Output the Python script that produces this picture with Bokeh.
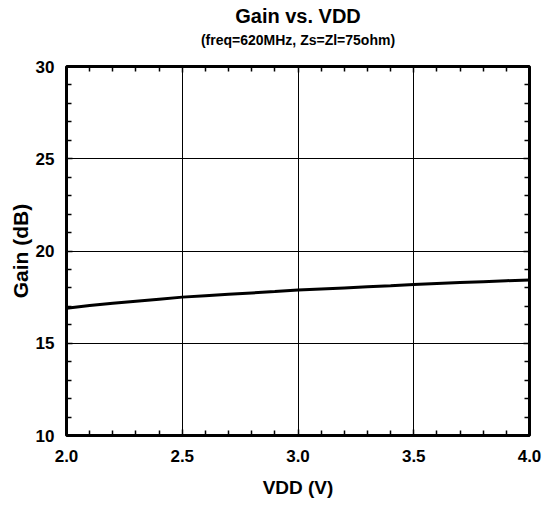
from bokeh.plotting import figure
from bokeh.models import Range1d, FixedTicker, LinearAxis, Title, ColumnDataSource, PrintfTickFormatter
from bokeh.embed import file_html
from bokeh.resources import INLINE

# ---- data ----
vdd = [2.0, 2.1, 2.2, 2.3, 2.4, 2.5, 2.6, 2.7, 2.8, 2.9, 3.0,
       3.1, 3.2, 3.3, 3.4, 3.5, 3.6, 3.7, 3.8, 3.9, 4.0]
gain = [16.90, 17.05, 17.17, 17.28, 17.39, 17.50, 17.58, 17.66, 17.73, 17.80, 17.88,
        17.94, 18.00, 18.06, 18.12, 18.19, 18.24, 18.29, 18.34, 18.39, 18.43]

x_ticks = [2.0, 2.5, 3.0, 3.5, 4.0]
x_minor = [2.1, 2.2, 2.3, 2.4, 2.6, 2.7, 2.8, 2.9, 3.1, 3.2, 3.3, 3.4, 3.6, 3.7, 3.8, 3.9]
y_ticks = [10, 15, 20, 25, 30]
y_minor = [11, 12, 13, 14, 16, 17, 18, 19, 21, 22, 23, 24, 26, 27, 28, 29]

title_text = "Gain vs. VDD"
subtitle_text = "(freq=620MHz, Zs=Zl=75ohm)"
x_label = "VDD (V)"
y_label = "Gain (dB)"

FONT = "Liberation Sans"

p = figure(width=543, height=507, output_backend="svg", toolbar_location=None,
           x_range=Range1d(2.0, 4.0), y_range=Range1d(10, 30),
           x_axis_location=None, y_axis_location=None,
           min_border_left=66, min_border_right=14, min_border_top=64, min_border_bottom=72)
p.background_fill_color = "white"
p.border_fill_color = "white"
p.outline_line_color = "black"
p.outline_line_width = 3

def style_axis(ax, ticks, minor, show_labels, standoff):
    ax.ticker = FixedTicker(ticks=ticks, minor_ticks=minor)
    ax.axis_line_color = None
    ax.major_tick_in = 6
    ax.major_tick_out = 0
    ax.minor_tick_in = 5
    ax.minor_tick_out = 0
    ax.major_tick_line_width = 1.5
    ax.minor_tick_line_width = 1.5
    ax.major_tick_line_color = "black"
    ax.minor_tick_line_color = "black"
    ax.major_label_text_font = FONT
    ax.major_label_text_font_style = "bold"
    ax.major_label_text_color = "black"
    ax.axis_label_text_font = FONT
    ax.axis_label_text_font_style = "bold"
    ax.axis_label_text_color = "black"
    if show_labels:
        ax.major_label_text_font_size = "17px"
        ax.major_label_standoff = standoff
    else:
        ax.major_label_text_color = None
        ax.major_label_text_font_size = "1px"
        ax.major_label_standoff = 0

bottom = LinearAxis(formatter=PrintfTickFormatter(format="%.1f"))
style_axis(bottom, x_ticks, x_minor, True, 14)
bottom.axis_label = x_label
bottom.axis_label_text_font_size = "19px"
bottom.axis_label_standoff = 12

left = LinearAxis()
style_axis(left, y_ticks, y_minor, True, 12)
left.axis_label = y_label
left.axis_label_text_font_size = "21px"
left.axis_label_standoff = 1

top = LinearAxis()
style_axis(top, x_ticks, x_minor, False, 0)
top.axis_label = subtitle_text
top.axis_label_text_font_size = "14px"
top.axis_label_standoff = 19

right = LinearAxis()
style_axis(right, y_ticks, y_minor, False, 0)
p.add_layout(bottom, "below")
p.add_layout(left, "left")
p.add_layout(top, "above")
p.add_layout(right, "right")

p.add_layout(Title(text=title_text, align="center", text_font=FONT, text_font_style="bold",
                   text_font_size="20px", text_color="black", standoff=4), "above")

p.xgrid.ticker = FixedTicker(ticks=x_ticks)
p.ygrid.ticker = FixedTicker(ticks=y_ticks)
p.grid.grid_line_color = "black"
p.grid.grid_line_width = 1
p.grid.grid_line_alpha = 1

src = ColumnDataSource(dict(x=vdd, y=gain))
p.line("x", "y", source=src, line_color="black", line_width=3)

open("out.html", "w").write(file_html(p, INLINE))
